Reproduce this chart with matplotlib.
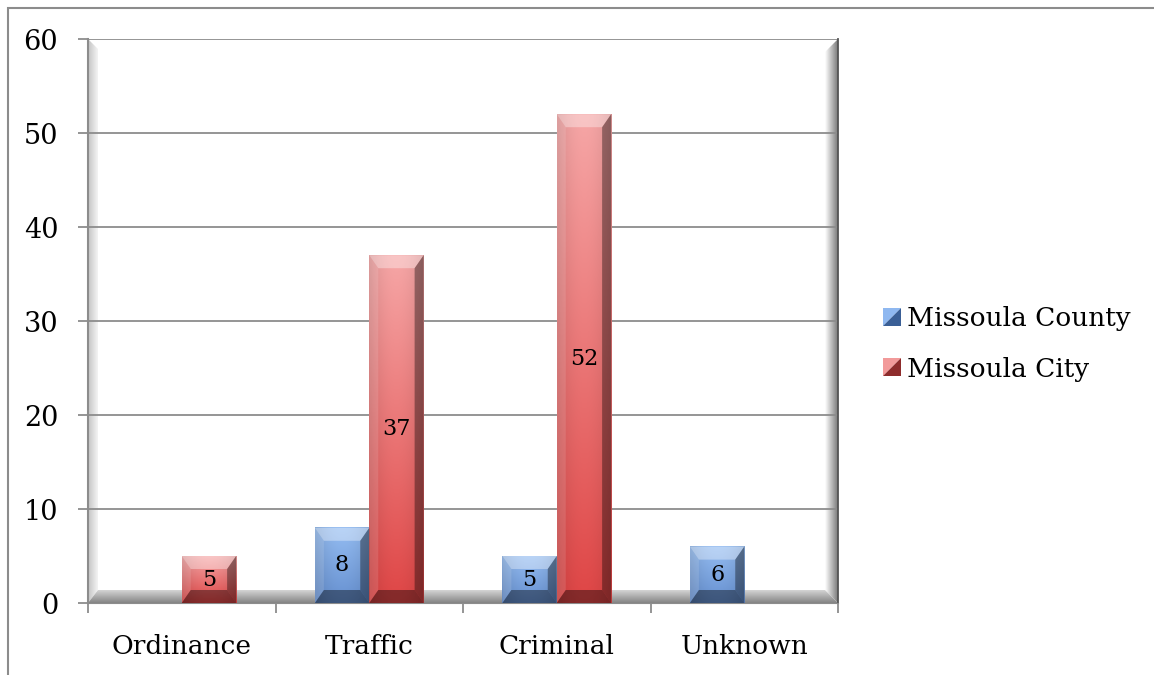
import numpy as np
import matplotlib
matplotlib.use("Agg")
import matplotlib.pyplot as plt
from matplotlib.patches import Polygon, Rectangle, Patch
from matplotlib.legend_handler import HandlerBase
from matplotlib.colors import to_rgb

plt.rcParams['font.family'] = ['DejaVu Serif']

categories = ["Ordinance", "Traffic", "Criminal", "Unknown"]
series_names = ["Missoula County", "Missoula City"]
county = [np.nan, 8, 5, 6]
city = [5, 37, 52, np.nan]
y_ticks = [0, 10, 20, 30, 40, 50, 60]

# face gradient colours (top, bottom) and legend colours (light, dark)
blue_face = ("#95bdf2", "#6690d0")
red_face = ("#f6a6a6", "#df4646")
blue_leg = ("#8fb8f0", "#3a5f96")
red_leg = ("#f29a9a", "#8e2c2c")

W, H = 11.54, 6.75
fig = plt.figure(figsize=(W, H), dpi=100)
ax = fig.add_axes([88 / 1154, 72 / 675, 750 / 1154, 564 / 675])

x = np.arange(len(categories))
bw = 0.29
ax.set_xlim(-0.5, 3.5)
ax.set_ylim(0, 60)

# pixel -> data helpers
dx = 1 / 187.5
dy = 60 / 564


def grad_image(c_from, c_to, n=64, vertical=True):
    a = np.array(to_rgb(c_from))
    b = np.array(to_rgb(c_to))
    t = np.linspace(0, 1, n)[:, None]
    g = a * (1 - t) + b * t
    if vertical:
        return g[:, None, :]
    return g[None, :, :]


def clipped_gradient(pts, c_from, c_to, vertical, z):
    pts = np.array(pts)
    poly = Polygon(pts, closed=True, transform=ax.transData, facecolor="none", edgecolor="none")
    ax.add_patch(poly)
    ext = [pts[:, 0].min(), pts[:, 0].max(), pts[:, 1].min(), pts[:, 1].max()]
    # imshow origin upper: first row at top
    im = ax.imshow(grad_image(c_from, c_to, vertical=vertical), extent=ext,
                   aspect="auto", origin="upper", zorder=z, interpolation="bilinear")
    im.set_clip_path(poly)


# walls / floor
x0, x1 = -0.5, 3.5
lw_, fw_, rw_ = 10 * dx, 13 * dy, 13 * dx
clipped_gradient([(x0, 60), (x0 + lw_, 60 - 10 * dy), (x0 + lw_, fw_), (x0, 0)],
                 "#c4c4c4", "#f4f4f4", False, 1)
clipped_gradient([(x1, 60), (x1, 0), (x1 - rw_, fw_), (x1 - rw_, 60 - 13 * dy)],
                 "#ffffff", "#7a7a7a", False, 1)
clipped_gradient([(x0, 0), (x1, 0), (x1 - rw_, fw_), (x0 + lw_, fw_)],
                 "#d4d4d4", "#848484", True, 1.1)

# gridlines
ax.hlines(y_ticks[1:], -0.5, 3.5, color="#8c8c8c", lw=1.3, zorder=1.5)

# bars
bx, by = 9 * dx, 13 * dy


def bevel_bars(values, offset, face):
    bars = ax.bar(x + offset, np.nan_to_num(values), width=bw, align="edge",
                  color="none", edgecolor="none", zorder=3)
    for rect, v in zip(bars.patches, values):
        if not np.isfinite(v):
            continue
        l, b = rect.get_x(), rect.get_y()
        r, t = l + rect.get_width(), b + rect.get_height()
        img = grad_image(face[0], face[1])
        # slight horizontal shading
        shade = 1 - 0.12 * np.abs(np.linspace(-1, 1, 16)) ** 2
        img = img * shade[None, :, None]
        ax.imshow(img, extent=[l, r, b, t], aspect="auto", origin="upper",
                  zorder=3, interpolation="bilinear")
        byy = min(by, (t - b) / 3)
        top = [(l, t), (r, t), (r - bx, t - byy), (l + bx, t - byy)]
        bot = [(l, b), (r, b), (r - bx, b + byy), (l + bx, b + byy)]
        left = [(l, t), (l + bx, t - byy), (l + bx, b + byy), (l, b)]
        right = [(r, t), (r - bx, t - byy), (r - bx, b + byy), (r, b)]
        ax.add_patch(Polygon(top, closed=True, facecolor="white", alpha=0.35, lw=0, zorder=3.2))
        ax.add_patch(Polygon(left, closed=True, facecolor="white", alpha=0.12, lw=0, zorder=3.2))
        ax.add_patch(Polygon(right, closed=True, facecolor="black", alpha=0.36, lw=0, zorder=3.2))
        ax.add_patch(Polygon(bot, closed=True, facecolor="black", alpha=0.4, lw=0, zorder=3.2))
        ax.text((l + r) / 2, (b + t) / 2, f"{v:g}", ha="center", va="center",
                fontsize=16, color="black", zorder=5)


bevel_bars(county, -bw, blue_face)
bevel_bars(city, 0, red_face)

ax.set_xlim(-0.5, 3.5)
ax.set_ylim(0, 60)

# axes styling
ax.spines["top"].set_visible(False)
ax.spines["left"].set_color("#8c8c8c")
ax.spines["left"].set_linewidth(1.5)
ax.spines["bottom"].set_color("#8c8c8c")
ax.spines["right"].set_color("#555555")
ax.spines["right"].set_linewidth(1.3)
for s in ax.spines.values():
    s.set_zorder(2)

ax.set_yticks(y_ticks)
ax.set_yticklabels([str(v) for v in y_ticks], fontsize=19.5)
ax.tick_params(axis="y", length=7.5, width=1.3, color="#8c8c8c", pad=14)

ax.set_xticks(x)
ax.set_xticklabels(categories, fontsize=19)
ax.set_xticks(np.arange(-0.5, 4, 1), minor=True)
ax.tick_params(axis="x", which="major", length=0, pad=22)
ax.tick_params(axis="x", which="minor", length=7.5, width=1.3, color="#8c8c8c")


# legend with split-square markers
class SplitSquare(HandlerBase):
    def __init__(self, light, dark):
        super().__init__()
        self.light, self.dark = light, dark

    def create_artists(self, legend, orig_handle, xdescent, ydescent, width, height, fontsize, trans):
        x0_, y0_ = -xdescent, -ydescent
        s = min(width, height)
        p1 = Polygon([(x0_, y0_), (x0_, y0_ + s), (x0_ + s, y0_ + s)], closed=True,
                     facecolor=self.light, lw=0, transform=trans)
        p2 = Polygon([(x0_, y0_), (x0_ + s, y0_), (x0_ + s, y0_ + s)], closed=True,
                     facecolor=self.dark, lw=0, transform=trans)
        return [p1, p2]


h1 = Patch(facecolor=blue_leg[1])
h2 = Patch(facecolor=red_leg[1])
fig.legend([h1, h2], series_names, loc="center left", bbox_to_anchor=(859 / 1154, 1 - 344 / 675),
           frameon=False, fontsize=19, handlelength=0.68, handleheight=0.68, handletextpad=0.25,
           labelspacing=0.95,
           handler_map={h1: SplitSquare(*blue_leg), h2: SplitSquare(*red_leg)})

# outer chart border
fig.add_artist(Rectangle((8 / 1154, -0.1), 1.2, 1 - 8 / 675 + 0.1, transform=fig.transFigure,
                         facecolor="none", edgecolor="#8c8c8c", lw=1.5))

fig.savefig("out.png", dpi=100)
